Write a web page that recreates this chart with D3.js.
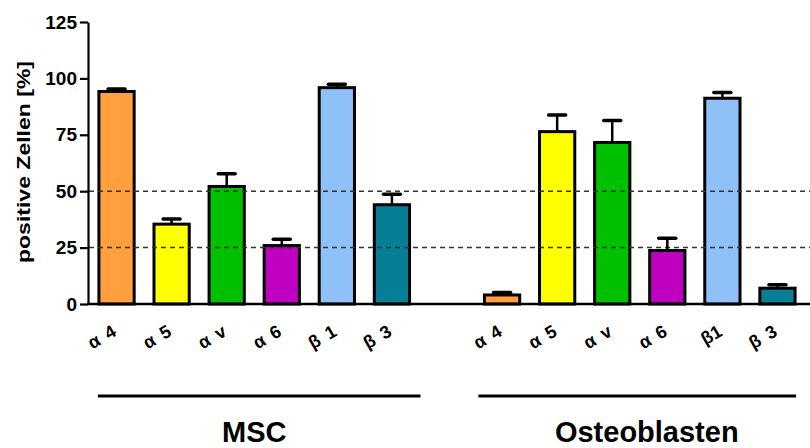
<!DOCTYPE html>
<html>
<head>
<meta charset="utf-8">
<script src="https://cdn.jsdelivr.net/npm/d3@7"></script>
<style>
  html, body { margin: 0; padding: 0; background: #fff; }
  svg { display: block; }
  svg text { font-family: "Liberation Sans", Arial, sans-serif; font-weight: bold; fill: #000; }
</style>
</head>
<body>
<svg id="chart" width="810" height="448"></svg>
<script>
// ---- data ----
const groups = ["MSC", "Osteoblasten"];
const catsMSC = ["α 4", "α 5", "α v", "α 6", "β 1", "β 3"];
const catsOst = ["α 4", "α 5", "α v", "α 6", "β1", "β 3"];
const mscMean = [94.2, 35.4, 52.1, 25.9, 95.9, 44.0];
const mscErr  = [1.1, 2.3, 5.6, 2.8, 1.5, 4.6];
const ostMean = [4.0, 76.4, 71.6, 23.7, 91.2, 7.0];
const ostErr  = [1.1, 7.4, 9.7, 5.4, 2.5, 1.5];
const colors  = ["#FF9F40", "#FFFF00", "#00C000", "#C000C0", "#90C0F8", "#087D96"];
const yTicks  = [0, 25, 50, 75, 100, 125];
const refLines = [25, 50];
const yLabel = "positive Zellen [%]";

// ---- build rows ----
const rows = [];
catsMSC.forEach((c, i) => rows.push({slot: "m" + i, label: c, mean: mscMean[i], err: mscErr[i], color: colors[i], group: 0}));
const slots = rows.map(r => r.slot).concat(["gap"]);
catsOst.forEach((c, i) => rows.push({slot: "o" + i, label: c, mean: ostMean[i], err: ostErr[i], color: colors[i], group: 1}));
rows.filter(r => r.group === 1).forEach(r => slots.push(r.slot));

const svg = d3.select("#chart");
const x = d3.scaleBand().domain(slots).range([89, 805]).paddingInner(0.36).paddingOuter(0.18);
const y = d3.scaleLinear().domain([0, 125]).range([304, 22]);
const bw = x.bandwidth();

// bars
svg.append("g").selectAll("rect").data(rows).join("rect")
  .attr("x", d => x(d.slot))
  .attr("y", d => y(d.mean))
  .attr("width", bw)
  .attr("height", d => y(0) - y(d.mean))
  .attr("fill", d => d.color)
  .attr("stroke", "#000")
  .attr("stroke-width", 3);

// dashed reference lines
svg.append("g").selectAll("line").data(refLines).join("line")
  .attr("x1", 89).attr("x2", 810)
  .attr("y1", d => y(d)).attr("y2", d => y(d))
  .attr("stroke", "#333").attr("stroke-width", 1.5)
  .attr("stroke-dasharray", "5,4");

// error bars
const eb = svg.append("g").selectAll("g").data(rows).join("g");
eb.append("line")
  .attr("x1", d => x(d.slot) + bw / 2).attr("x2", d => x(d.slot) + bw / 2)
  .attr("y1", d => y(d.mean)).attr("y2", d => y(d.mean + d.err))
  .attr("stroke", "#000").attr("stroke-width", 2.5);
eb.append("line")
  .attr("x1", d => x(d.slot) + bw / 2 - 8.5).attr("x2", d => x(d.slot) + bw / 2 + 8.5)
  .attr("y1", d => y(d.mean + d.err)).attr("y2", d => y(d.mean + d.err))
  .attr("stroke", "#000").attr("stroke-width", 3.5).attr("stroke-linecap", "round");

// y axis
const yAxis = svg.append("g").attr("transform", "translate(88,0)")
  .call(d3.axisLeft(y).tickValues(yTicks).tickSize(8).tickSizeOuter(0).tickPadding(3));
yAxis.attr("font-size", null).attr("font-family", null);
yAxis.select(".domain").attr("stroke-width", 2.2);
yAxis.selectAll(".tick line").attr("stroke-width", 2.2);
yAxis.selectAll(".tick text")
  .style("font-size", "19px").style("font-weight", "bold")
  .style("font-family", "'Liberation Sans', Arial, sans-serif").style("fill", "#000");

// x axis line
svg.append("line").attr("x1", 87).attr("x2", 810).attr("y1", y(0)).attr("y2", y(0))
  .attr("stroke", "#000").attr("stroke-width", 2.5);

// x tick labels
svg.append("g").selectAll("text").data(rows).join("text")
  .attr("transform", d => `translate(${x(d.slot) + bw / 2 + 1},${y(0) + 31}) rotate(-30)`)
  .attr("text-anchor", "end")
  .style("font-size", "18px")
  .style("word-spacing", "3px")
  .text(d => d.label);

// y label
svg.append("text")
  .attr("transform", "translate(30,162) rotate(-90)")
  .attr("text-anchor", "middle")
  .style("font-size", "18px")
  .attr("textLength", 202).attr("lengthAdjust", "spacingAndGlyphs")
  .text(yLabel);

// group lines and labels
const spans = [
  {x1: x("m0") - 1, x2: x("m5") + bw + 11, tx: (x("m0") + x("m5") + bw) / 2},
  {x1: x("o0") - 6, x2: x("o5") + bw + 1, tx: (x("o0") + x("o5") + bw) / 2 + 7}
];
svg.append("g").selectAll("line").data(spans).join("line")
  .attr("x1", d => d.x1).attr("x2", d => d.x2)
  .attr("y1", 396).attr("y2", 396)
  .attr("stroke", "#000").attr("stroke-width", 3);
svg.append("g").selectAll("text").data(spans).join("text")
  .attr("x", d => d.tx).attr("y", 442)
  .attr("text-anchor", "middle")
  .style("font-size", "29px")
  .text((d, i) => groups[i]);
</script>
</body>
</html>
